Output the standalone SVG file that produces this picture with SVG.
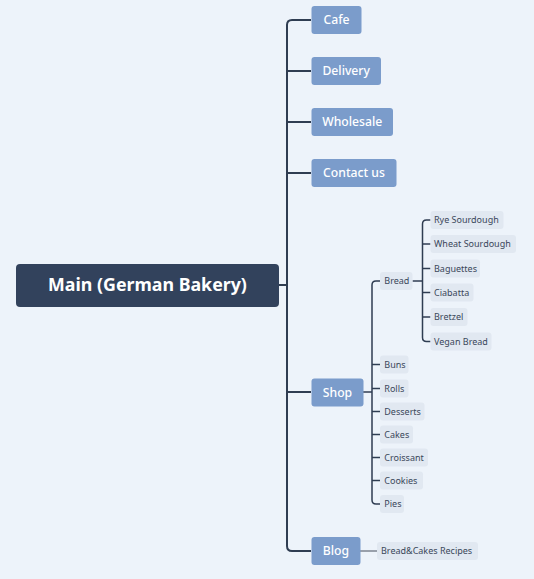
<svg xmlns="http://www.w3.org/2000/svg" width="534" height="579" viewBox="0 0 534 579">
<style>
.bg{fill:#EDF3FA}
.main{fill:#32425C}
.mt{font-family:"Noto Sans","Open Sans",sans-serif;font-weight:bold;font-size:17.8px;fill:#FFFFFF}
.b1{fill:#7B9CCB}
.t1{font-family:"Noto Sans","Open Sans",sans-serif;font-weight:500;font-size:12.2px;fill:#FFFFFF}
.b2{fill:#E1E8F1}
.t2{font-family:"Noto Sans","Open Sans",sans-serif;font-size:9px;fill:#3A475A}
.c{fill:none;stroke:#2F3D52;stroke-width:2}
.c2{fill:none;stroke:#2F3D52;stroke-width:1.5}
.cg{fill:none;stroke:#7D8591;stroke-width:1.5}
</style>
<rect class="bg" x="0" y="0" width="534" height="579"/>
<g id="connectors">
<path class="c" d="M279,285 H287"/>
<path class="c" d="M311,20 H292 Q287,20 287,25 V546 Q287,551 292,551 H311"/>
<path class="c" d="M287,71 H311"/>
<path class="c" d="M287,122 H311"/>
<path class="c" d="M287,173 H311"/>
<path class="c" d="M287,392 H311"/>
<path class="c2" d="M363,392 H372"/>
<path class="c2" d="M380,281 H376 Q372,281 372,285 V500 Q372,504 376,504 H380"/>
<path class="c2" d="M372,364.5 H380"/>
<path class="c2" d="M372,388.5 H380"/>
<path class="c2" d="M372,411.5 H380"/>
<path class="c2" d="M372,434.5 H380"/>
<path class="c2" d="M372,457.5 H380"/>
<path class="c2" d="M372,480.5 H380"/>
<path class="c2" d="M412.5,281 H422.5"/>
<path class="c2" d="M430.5,220 H426.5 Q422.5,220 422.5,224 V337.5 Q422.5,341.5 426.5,341.5 H430.5"/>
<path class="c2" d="M422.5,244 H430.5"/>
<path class="c2" d="M422.5,268.5 H430.5"/>
<path class="c2" d="M422.5,292.5 H430.5"/>
<path class="c2" d="M422.5,317 H430.5"/>
<path class="cg" d="M360,551 H377"/>
</g>
<g id="main">
<rect class="main" x="16" y="264" width="263" height="43" rx="4"/>
<text class="mt" x="147.5" y="291.2" text-anchor="middle">Main (German Bakery)</text>
</g>
<g id="cafe"><rect class="b1" x="311.5" y="6" width="50" height="28" rx="3"/><text class="t1" x="336.5" y="24.3" text-anchor="middle">Cafe</text></g>
<g id="delivery"><rect class="b1" x="311.5" y="57" width="69.5" height="28" rx="3"/><text class="t1" x="346.2" y="75.3" text-anchor="middle">Delivery</text></g>
<g id="wholesale"><rect class="b1" x="311.5" y="108" width="81.5" height="28" rx="3"/><text class="t1" x="352.2" y="126.3" text-anchor="middle">Wholesale</text></g>
<g id="contact"><rect class="b1" x="311.5" y="159" width="85" height="28" rx="3"/><text class="t1" x="354" y="177.3" text-anchor="middle">Contact us</text></g>
<g id="shop"><rect class="b1" x="311.5" y="378.5" width="52" height="28" rx="3"/><text class="t1" x="337.5" y="396.8" text-anchor="middle">Shop</text></g>
<g id="blog"><rect class="b1" x="311.5" y="537" width="49" height="28" rx="3"/><text class="t1" x="336" y="555.3" text-anchor="middle">Blog</text></g>
<g id="bread"><rect class="b2" x="380" y="272" width="32.5" height="18" rx="3"/><text class="t2" x="384.3" y="284.2">Bread</text></g>
<g id="rye"><rect class="b2" x="430.5" y="211" width="73" height="18" rx="3"/><text class="t2" x="434" y="223.2">Rye Sourdough</text></g>
<g id="wheat"><rect class="b2" x="430.5" y="235" width="85.5" height="18" rx="3"/><text class="t2" x="434" y="247.2">Wheat Sourdough</text></g>
<g id="baguettes"><rect class="b2" x="430.5" y="259.5" width="49.5" height="18" rx="3"/><text class="t2" x="434" y="271.7">Baguettes</text></g>
<g id="ciabatta"><rect class="b2" x="430.5" y="283.5" width="43" height="18" rx="3"/><text class="t2" x="434" y="295.7">Ciabatta</text></g>
<g id="bretzel"><rect class="b2" x="430.5" y="308" width="37" height="18" rx="3"/><text class="t2" x="434" y="320.2">Bretzel</text></g>
<g id="vegan"><rect class="b2" x="430.5" y="332.5" width="61" height="18" rx="3"/><text class="t2" x="434" y="344.7">Vegan Bread</text></g>
<g id="buns"><rect class="b2" x="380" y="355.5" width="28.5" height="18" rx="3"/><text class="t2" x="384.3" y="367.7">Buns</text></g>
<g id="rolls"><rect class="b2" x="380" y="379.5" width="28.5" height="18" rx="3"/><text class="t2" x="384.3" y="391.7">Rolls</text></g>
<g id="desserts"><rect class="b2" x="380" y="402.5" width="44.5" height="18" rx="3"/><text class="t2" x="384.3" y="414.7">Desserts</text></g>
<g id="cakes"><rect class="b2" x="380" y="425.5" width="33" height="18" rx="3"/><text class="t2" x="384.3" y="437.7">Cakes</text></g>
<g id="croissant"><rect class="b2" x="380" y="448.5" width="48" height="18" rx="3"/><text class="t2" x="384.3" y="460.7">Croissant</text></g>
<g id="cookies"><rect class="b2" x="380" y="471.5" width="43" height="18" rx="3"/><text class="t2" x="384.3" y="483.7">Cookies</text></g>
<g id="pies"><rect class="b2" x="380" y="495" width="24" height="18" rx="3"/><text class="t2" x="384.3" y="507.2">Pies</text></g>
<g id="recipes"><rect class="b2" x="377" y="542" width="101" height="18" rx="3"/><text class="t2" x="381" y="554.2">Bread&amp;Cakes Recipes</text></g>
</svg>
